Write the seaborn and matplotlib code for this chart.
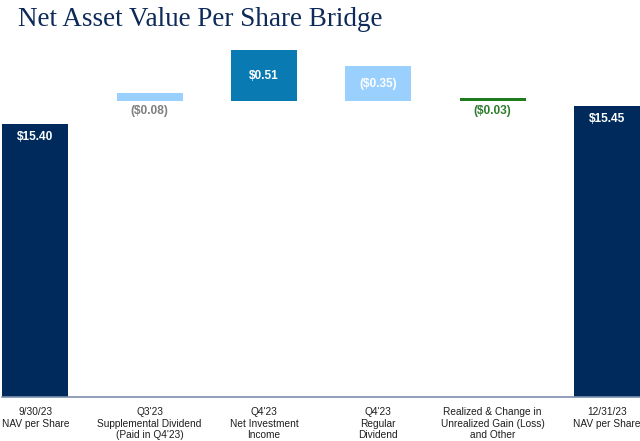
import numpy as np
import pandas as pd
import matplotlib
matplotlib.use('Agg')
import matplotlib.pyplot as plt
import seaborn as sns
from matplotlib import font_manager

# categories and what each bar stands for
steps = ["9/30/23\nNAV per Share",
         "Q3'23\nSupplemental Dividend\n(Paid in Q4'23)",
         "Q4'23\nNet Investment\nIncome",
         "Q4'23\nRegular\nDividend",
         "Realized & Change in\nUnrealized Gain (Loss)\nand Other",
         "12/31/23\nNAV per Share"]
value_labels = ["$15.40", "($0.08)", "$0.51", "($0.35)", "($0.03)", "$15.45"]
kinds = ["total", "change", "change", "change", "change", "total"]
# bridge is drawn schematically (not to scale): bar tops
bar_top = [273.6, 304.6, 347.3, 331.5, 299.0, 291.0]
change_base = 296.0

bar_colors = ["#002a5c", "#99d0fd", "#0a7ab2", "#99d0fd", "#1e7b1e", "#002a5c"]
label_colors = ["white", "#7f7f7f", "white", "white", "#2e7d2e", "white"]

sns.set_style("white")
names = {f.name for f in font_manager.fontManager.ttflist}
sans = "Liberation Sans Narrow" if "Liberation Sans Narrow" in names else "Liberation Sans"
narrow = sans == "Liberation Sans Narrow"
plt.rcParams['font.family'] = [sans, 'DejaVu Sans']

df = pd.DataFrame({"step": steps, "top": bar_top, "kind": kinds,
                   "label": value_labels})
df["height"] = np.where(df["kind"] == "total", df["top"], df["top"] - change_base)
pal = dict(zip(steps, bar_colors))

fig = plt.figure(figsize=(6.4, 4.41), dpi=100)
ax = fig.add_axes([2/640, 43.7/441, 638/640, 350/441])

sns.barplot(data=df[df["kind"] == "total"], x="step", y="height", hue="step",
            order=steps, hue_order=steps, palette=pal, legend=False,
            width=0.577, saturation=1, linewidth=0, ax=ax)
sns.barplot(data=df[df["kind"] == "change"], x="step", y="height", hue="step",
            order=steps, hue_order=steps, palette=pal, legend=False,
            width=0.577, saturation=1, linewidth=0, bottom=change_base, ax=ax)

lab_size = 10.3 if narrow else 8.6
for i, row in df.iterrows():
    if row["kind"] == "total":
        y = row["top"] - 13
    elif row["height"] > 20:
        y = change_base + row["height"] / 2
    else:
        y = change_base - 9.5
    ax.text(i, y, row["label"], ha="center", va="center", color=label_colors[i],
            fontsize=lab_size, fontweight="bold")

ax.set_xlim(-0.2913, 5.2896)
ax.set_ylim(0, 350)
ax.set_xlabel("")
ax.set_ylabel("")
ax.set_yticks([])
ax.set_xticks(range(len(steps)))
ax.set_xticklabels(steps, fontsize=8.7 if narrow else 7.3, color="#1e1e1e",
                   linespacing=1.06 if narrow else 1.2)
ax.tick_params(axis="x", length=0, pad=7)
for s in ["top", "right", "left"]:
    ax.spines[s].set_visible(False)
ax.spines["bottom"].set_color("#7d8fab")
ax.spines["bottom"].set_linewidth(1.2)

fig.text(18/640, 1 - 26/441, "Net Asset Value Per Share Bridge", va="baseline",
         ha="left", fontsize=19.5, color="#0d2a58", family=["Liberation Serif", "DejaVu Serif"])

fig.savefig("out.png", dpi=100)
